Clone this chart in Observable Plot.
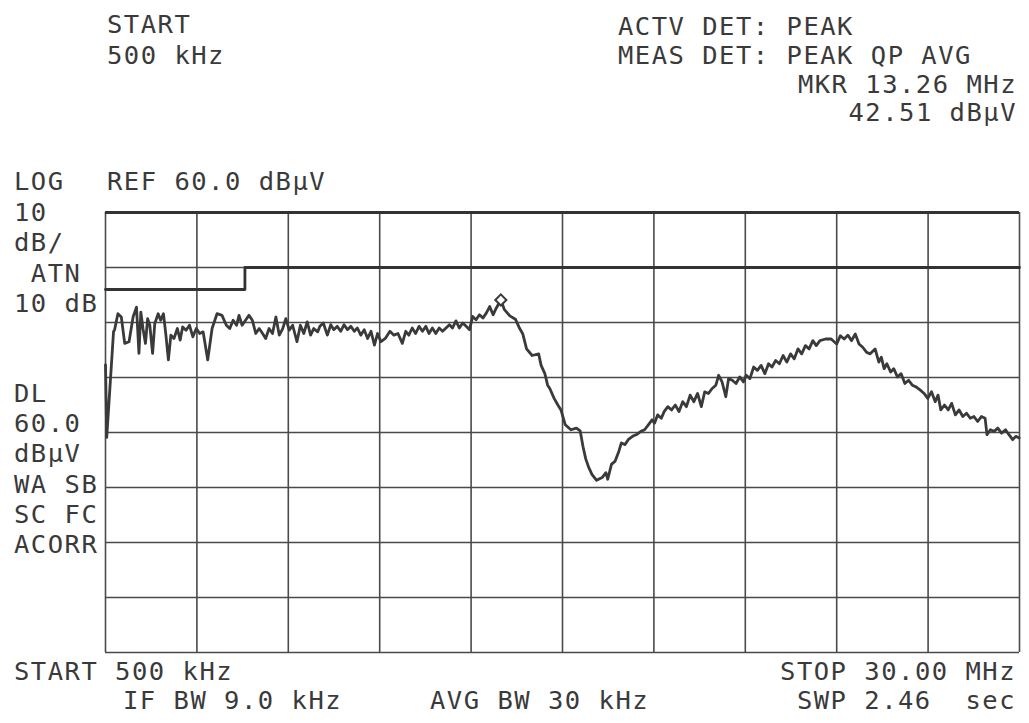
<!DOCTYPE html>
<html>
<head>
<meta charset="utf-8">
<script src="https://cdn.jsdelivr.net/npm/d3@7"></script>
<script src="https://cdn.jsdelivr.net/npm/@observablehq/plot@0.6"></script>
<style>
  html, body { margin: 0; padding: 0; background: #ffffff; }
  #chart { width: 1029px; height: 723px; position: relative; overflow: hidden; }
  #chart text.lbl { font-family: "DejaVu Sans Mono", monospace; font-size: 25.5px; letter-spacing: 1.5px; fill: #3a3a3a; white-space: pre; }
</style>
</head>
<body>
<div id="chart"></div>
<script>
// ---- trace data (frequency in MHz, level in dBµV) ----
const freqMHz = [
  0.50,0.54,0.76,0.79,0.90,1.01,1.12,1.26,1.39,1.50,1.58,1.64,1.71,1.79,1.86,1.93,2.02,2.09,2.20,2.28,
  2.37,2.45,2.53,2.61,2.71,2.82,2.91,2.99,3.10,3.21,3.32,3.43,3.54,3.65,3.80,3.94,4.10,4.26,4.40,4.51,
  4.62,4.73,4.81,4.91,5.02,5.13,5.24,5.35,5.46,5.57,5.67,5.78,5.89,6.00,6.11,6.22,6.32,6.43,6.54,6.68,
  6.79,6.90,7.01,7.12,7.22,7.35,7.42,7.53,7.66,7.77,7.87,7.98,8.09,8.20,8.31,8.42,8.53,8.63,8.74,8.85,
  8.96,9.07,9.18,9.28,9.39,9.53,9.68,9.81,9.94,10.08,10.19,10.29,10.40,10.51,10.62,10.73,10.84,10.94,11.05,11.16,
  11.27,11.38,11.49,11.60,11.70,11.81,11.92,12.03,12.14,12.25,12.35,12.46,12.57,12.68,12.79,12.90,13.01,13.11,13.26,13.37,
  13.55,13.73,13.85,13.97,14.09,14.27,14.48,14.56,14.68,14.77,14.84,14.98,15.10,15.20,15.34,15.52,15.70,15.82,15.91,16.00,
  16.10,16.20,16.35,16.53,16.65,16.71,16.83,16.95,17.07,17.15,17.27,17.37,17.51,17.66,17.78,17.90,18.02,18.14,18.22,18.32,
  18.44,18.53,18.65,18.77,18.89,19.01,19.13,19.25,19.37,19.49,19.61,19.73,19.84,19.96,20.08,20.20,20.29,20.40,20.52,20.61,
  20.73,20.85,20.97,21.09,21.18,21.30,21.42,21.54,21.66,21.78,21.90,22.01,22.13,22.25,22.37,22.49,22.61,22.73,22.85,22.97,
  23.09,23.21,23.33,23.44,23.56,23.74,23.92,24.10,24.22,24.34,24.46,24.58,24.70,24.82,24.94,25.06,25.18,25.34,25.46,25.54,
  25.63,25.72,25.84,25.94,26.06,26.18,26.30,26.42,26.54,26.66,26.80,26.92,27.04,27.16,27.28,27.37,27.46,27.58,27.70,27.81,
  27.93,28.05,28.17,28.29,28.41,28.53,28.65,28.77,28.89,28.95,29.06,29.18,29.30,29.42,29.55,29.66,29.78,29.88,29.99
];
const levelDbuV = [
  32.3,19.1,38.4,38.6,41.6,41.0,36.2,36.5,41.0,42.8,34.4,41.9,38.9,36.2,40.7,39.5,34.4,39.8,41.6,40.4,
  41.6,37.7,33.2,37.7,37.1,38.9,36.8,39.2,38.6,39.5,37.4,38.9,38.0,38.3,33.2,38.9,41.6,41.3,39.5,38.9,
  40.4,39.5,41.3,39.5,40.4,41.3,40.4,38.0,38.9,38.0,37.1,38.9,38.0,41.0,37.7,38.9,40.7,38.6,39.5,36.5,
  39.5,38.0,40.1,37.7,38.9,38.3,39.3,39.9,37.7,39.6,38.7,39.3,38.4,39.6,38.7,39.3,38.4,39.0,37.7,38.7,
  37.1,38.4,35.9,38.0,36.5,37.1,38.4,37.7,38.0,36.2,38.4,37.7,39.0,38.0,39.3,38.4,39.3,38.0,39.0,38.0,
  39.0,38.4,39.0,39.6,39.0,40.3,39.0,39.9,39.3,38.7,41.1,40.5,41.4,40.8,41.7,42.9,41.4,42.6,44.1,42.4,
  41.2,40.6,39.1,37.9,35.2,34.0,34.3,32.2,30.7,28.6,28.0,26.2,25.0,24.1,21.4,20.5,20.8,20.3,17.5,15.2,
  13.6,12.4,11.3,11.8,12.7,11.5,14.2,14.8,16.6,18.1,17.8,18.7,19.3,19.7,20.2,20.5,21.4,22.3,21.7,23.2,
  22.6,23.8,24.7,24.1,25.0,23.8,25.6,24.7,26.8,25.6,27.1,24.7,27.4,27.1,28.0,28.6,30.4,29.2,26.5,29.8,
  29.5,28.9,30.1,29.2,30.4,29.8,31.9,31.3,32.2,30.7,32.5,31.9,33.1,32.5,34.0,32.8,34.3,33.4,35.2,34.3,
  35.8,35.2,36.7,35.8,36.7,37.0,37.0,36.1,37.6,37.0,37.7,36.7,37.9,36.1,35.5,34.6,34.3,35.2,32.8,33.7,
  31.6,32.5,31.0,31.6,30.1,30.7,28.9,29.5,28.6,28.3,27.7,27.1,26.2,27.4,25.6,26.8,24.1,25.0,24.1,25.3,
  23.2,24.1,22.9,23.5,22.6,22.9,22.0,22.9,22.6,19.6,20.5,20.2,20.8,19.9,20.5,19.6,18.7,19.3,19.0
];

// ---- limit line (dBµV) ----
const limitFreq = [0.5, 5.0, 5.0, 30.0];
const limitLevel = [46, 46, 50, 50];

// ---- graticule ----
const gridFreq = [0.5, 3.45, 6.4, 9.35, 12.3, 15.25, 18.2, 21.15, 24.1, 27.05, 30.0];
const gridLevel = [-20, -10, 0, 10, 20, 30, 40, 50, 60];
const refLevel = 60;

// ---- marker ----
const markerFreq = [13.26];
const markerLevel = [44.1];

// ---- annotation texts ----
const headerLeft = ["START", "500 kHz"];
const headerRight = ["ACTV DET: PEAK", "MEAS DET: PEAK QP AVG"];
const markerText = ["MKR 13.26 MHz", "42.51 dBµV"];
const refText = "REF 60.0 dBµV";
const sideTop = ["LOG", "10", "dB/", " ATN", "10 dB"];
const sideBottom = ["DL", "60.0", "dBµV", "WA SB", "SC FC", "ACORR"];
const footLeft = ["START 500 kHz", "IF BW 9.0 kHz"];
const footMid = ["AVG BW 30 kHz"];
const footRight = ["STOP 30.00 MHz", "SWP 2.46  sec"];

const trace = freqMHz.map((f, i) => ({f, l: levelDbuV[i]}));
const limit = limitFreq.map((f, i) => ({f, l: limitLevel[i]}));
const marker = markerFreq.map((f, i) => ({f, l: markerLevel[i]}));

const ink = "#3a3a3a";
const plot = Plot.plot({
  width: 1029,
  height: 723,
  marginLeft: 105,
  marginRight: 10,
  marginTop: 212,
  marginBottom: 71,
  x: {domain: [0.5, 30], axis: null},
  y: {domain: [-20, 60], axis: null},
  style: {background: "#ffffff"},
  marks: [
    Plot.ruleX(gridFreq, {stroke: "#4a4a4a", strokeWidth: 1.6}),
    Plot.ruleY(gridLevel, {stroke: "#4a4a4a", strokeWidth: 1.7}),
    Plot.ruleY([refLevel], {stroke: "#333", strokeWidth: 3}),
    Plot.line(limit, {x: "f", y: "l", stroke: "#333", strokeWidth: 2.8}),
    Plot.line(trace, {x: "f", y: "l", stroke: ink, strokeWidth: 2.8, strokeLinejoin: "round"}),
    Plot.dot(marker, {x: "f", y: "l", symbol: "diamond2", r: 5, stroke: ink, strokeWidth: 2, fill: "#fff"})
  ]
});
document.getElementById("chart").appendChild(plot);

// texts
const svg = d3.select(plot);
function put(lines, x, y0, step, anchor) {
  lines.forEach((t, i) => {
    svg.append("text").attr("class", "lbl")
      .attr("x", x).attr("y", y0 + i * step)
      .attr("text-anchor", anchor)
      .text(t);
  });
}
put(headerLeft, 107, 33, 31, "start");
put(headerRight, 618, 35, 29, "start");
put(markerText, 1017, 93, 28, "end");
put([refText], 107, 190, 0, "start");
put(sideTop, 14, 190, 30.5, "start");
put(sideBottom, 14, 402, 30.2, "start");
put(footLeft.slice(0, 1), 14, 680, 0, "start");
put(footLeft.slice(1), 123, 709, 0, "start");
put(footMid, 430, 709, 0, "start");
put(footRight, 1016, 680, 29, "end");
</script>
</body>
</html>
